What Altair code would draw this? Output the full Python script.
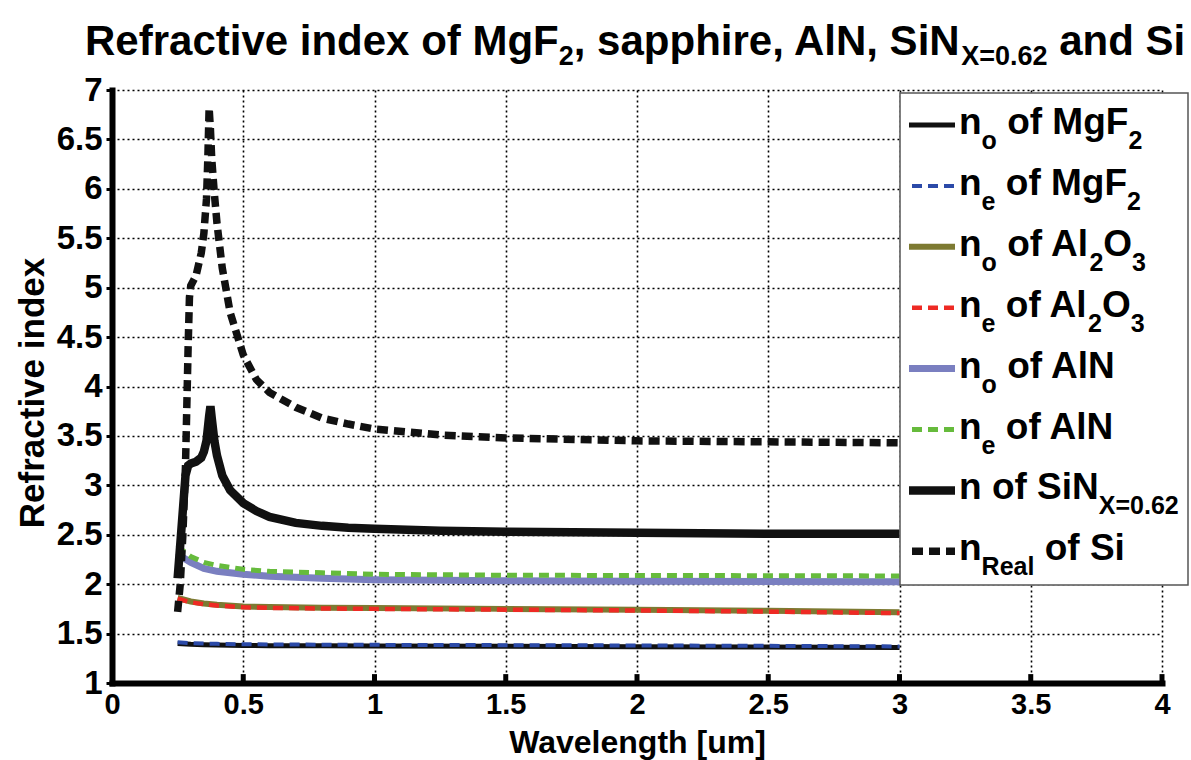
import altair as alt
import pandas as pd

# ---------------- data ----------------
wl_mgf2 = [0.25, 0.30, 0.35, 0.40, 0.50, 0.60, 0.80, 1.00, 1.50, 2.00, 2.50, 3.00]
no_mgf2 = [1.400, 1.392, 1.387, 1.384, 1.380, 1.378, 1.376, 1.374, 1.371, 1.368, 1.364, 1.358]
ne_mgf2 = [1.412, 1.404, 1.399, 1.396, 1.392, 1.390, 1.388, 1.386, 1.383, 1.380, 1.376, 1.370]

wl_al2o3 = [0.25, 0.30, 0.35, 0.40, 0.50, 0.60, 0.80, 1.00, 1.50, 2.00, 2.50, 3.00]
no_al2o3 = [1.860, 1.825, 1.805, 1.792, 1.775, 1.768, 1.762, 1.758, 1.750, 1.742, 1.730, 1.715]
ne_al2o3 = [1.852, 1.817, 1.797, 1.784, 1.767, 1.760, 1.754, 1.750, 1.742, 1.734, 1.722, 1.707]

wl_aln = [0.25, 0.27, 0.30, 0.35, 0.40, 0.50, 0.60, 0.80, 1.00, 1.50, 2.00, 2.50, 3.00]
no_aln = [2.320, 2.270, 2.220, 2.160, 2.130, 2.100, 2.080, 2.060, 2.045, 2.035, 2.030, 2.028, 2.025]
ne_aln = [2.400, 2.340, 2.280, 2.220, 2.190, 2.150, 2.130, 2.115, 2.100, 2.090, 2.088, 2.086, 2.083]

wl_sin = [0.25, 0.26, 0.27, 0.28, 0.29, 0.30, 0.32, 0.34, 0.35, 0.36, 0.37, 0.375, 0.38,
          0.39, 0.40, 0.42, 0.45, 0.50, 0.55, 0.60, 0.70, 0.80, 0.90, 1.00, 1.25, 1.50,
          2.00, 2.50, 3.00]
n_sin = [2.06, 2.40, 2.75, 3.10, 3.20, 3.22, 3.24, 3.28, 3.34, 3.45, 3.70, 3.80, 3.68,
         3.45, 3.30, 3.10, 2.95, 2.82, 2.74, 2.68, 2.62, 2.59, 2.57, 2.56, 2.54, 2.53,
         2.52, 2.51, 2.51]

wl_si = [0.25, 0.26, 0.27, 0.28, 0.285, 0.29, 0.295, 0.30, 0.32, 0.34, 0.35, 0.36, 0.365,
         0.37, 0.375, 0.38, 0.39, 0.40, 0.42, 0.45, 0.50, 0.55, 0.60, 0.70, 0.80, 0.90,
         1.00, 1.25, 1.50, 2.00, 2.50, 3.00]
n_si = [1.72, 2.00, 2.50, 3.20, 3.80, 4.40, 4.90, 5.02, 5.12, 5.35, 5.55, 5.90, 6.30,
        6.82, 6.60, 6.30, 5.95, 5.65, 5.20, 4.75, 4.32, 4.07, 3.94, 3.79, 3.68, 3.62,
        3.57, 3.51, 3.48, 3.45, 3.44, 3.43]

x_ticks = [0, 0.5, 1, 1.5, 2, 2.5, 3, 3.5, 4]
y_ticks = [1, 1.5, 2, 2.5, 3, 3.5, 4, 4.5, 5, 5.5, 6, 6.5, 7]

# legend rows: list of (text, is_subscript)
legend_rows = [
    [("n", 0), ("o", 1), (" of MgF", 0), ("2", 1)],
    [("n", 0), ("e", 1), (" of MgF", 0), ("2", 1)],
    [("n", 0), ("o", 1), (" of Al", 0), ("2", 1), ("O", 0), ("3", 1)],
    [("n", 0), ("e", 1), (" of Al", 0), ("2", 1), ("O", 0), ("3", 1)],
    [("n", 0), ("o", 1), (" of AlN", 0)],
    [("n", 0), ("e", 1), (" of AlN", 0)],
    [("n of SiN", 0), ("X=0.62", 1)],
    [("n", 0), ("Real", 1), (" of Si", 0)],
]
title_pieces = [("Refractive index of MgF", 0), ("2", 1), (", sapphire, AlN, SiN", 0),
                ("X=0.62", 1), (" and Si", 0)]

# ---------------- styles ----------------
series = [
    (wl_mgf2, no_mgf2, "#111111", 5, None),
    (wl_mgf2, ne_mgf2, "#2b4aa8", 4, [10, 6]),
    (wl_al2o3, no_al2o3, "#7d7a32", 6, None),
    (wl_al2o3, ne_al2o3, "#ee2a24", 4.5, [10, 6]),
    (wl_aln, no_aln, "#7a7fc0", 7, None),
    (wl_aln, ne_aln, "#66bb3c", 5, [10, 6]),
    (wl_sin, n_sin, "#111111", 8.5, None),
    (wl_si, n_si, "#111111", 7.5, [11, 6]),
]

W, H = 1050, 593
FONT = "Liberation Sans"

# Arial/Liberation Sans Bold advance widths (per 1000 em)
AW = {" ": 278, ",": 278, ".": 278, "=": 584, "A": 722, "F": 611, "M": 833, "N": 722,
      "O": 778, "R": 722, "S": 667, "X": 667, "a": 556, "c": 556, "d": 611, "e": 556,
      "f": 333, "g": 611, "h": 611, "i": 278, "l": 278, "n": 611, "o": 611, "p": 611,
      "r": 389, "s": 556, "t": 333, "v": 556, "x": 556}
for d in "0123456789":
    AW[d] = 556


def tw(s, size):
    return sum(AW.get(c, 556) for c in s) * size / 1000.0


def rich(pieces, x0, y0, big, small, dy):
    out = []
    x = x0
    for txt, sub in pieces:
        size = small if sub else big
        stripped = txt.lstrip(" ")
        x += tw(txt[:len(txt) - len(stripped)], size)
        out.append({"t": stripped, "px": x, "py": y0 + (dy if sub else 0), "fs": size})
        x += tw(stripped, size)
    return out


xscale = alt.Scale(domain=[0, 4], nice=False, zero=False)
yscale = alt.Scale(domain=[1, 7], nice=False, zero=False)

x_axis = alt.Axis(values=x_ticks, format="~g", grid=True, gridColor="#000000",
                  gridDash=[2, 3], gridWidth=1.6, gridOpacity=1, domainColor="#000000",
                  domainWidth=6, domainCap="square", ticks=False, labelFont=FONT,
                  labelFontWeight="bold", labelFontSize=29, labelColor="#000000",
                  labelPadding=7, title="Wavelength [um]", titleFont=FONT,
                  titleFontWeight="bold", titleFontSize=32, titleColor="#000000",
                  titleX=W / 2, titleY=69, titleBaseline="alphabetic", labelFlush=False,
                  labelOverlap=False)
y_axis = alt.Axis(values=y_ticks, format="~g", grid=True, gridColor="#000000",
                  gridDash=[2, 3], gridWidth=1.6, gridOpacity=1, domainColor="#000000",
                  domainWidth=6, domainCap="square", ticks=True, tickSize=6, tickWidth=3,
                  tickColor="#000000", labelFont=FONT, labelFontWeight="bold",
                  labelFontSize=33, labelColor="#000000", labelPadding=4,
                  title="Refractive index", titleFont=FONT, titleFontWeight="bold",
                  titleFontSize=35, titleColor="#000000", titleX=-80, titleY=H / 2 + 6,
                  titleBaseline="middle", titleAlign="center", titleAngle=270,
                  labelFlush=False, labelOverlap=False)

layers = []
for i, (xs, ys, col, sw, dash) in enumerate(series):
    df = pd.DataFrame({"wl": xs, "n": ys})
    kw = dict(color=col, strokeWidth=sw, strokeCap="butt", strokeJoin="miter", clip=True)
    if dash:
        kw["strokeDash"] = dash
    layers.append(alt.Chart(df).mark_line(**kw).encode(
        x=alt.X("wl:Q", scale=xscale, axis=x_axis),
        y=alt.Y("n:Q", scale=yscale, axis=y_axis),
    ))

# inward ticks on the x axis
tick_df = pd.DataFrame({"wl": x_ticks[1:], "n": [1.0] * 8, "n2": [1.09] * 8})
layers.append(alt.Chart(tick_df).mark_rule(color="#000000", strokeWidth=5).encode(
    x=alt.X("wl:Q", scale=xscale, axis=x_axis),
    y=alt.Y("n:Q", scale=yscale, axis=y_axis), y2="n2:Q"))

# legend box
LX0, LX1, LY0, LY1 = 788, 1076, 3, 495
one = pd.DataFrame({"a": [0]})
layers.append(alt.Chart(one).mark_rect(
    fill="#ffffff", stroke="#555555", strokeWidth=1.5).encode(
    x=alt.value(LX0), x2=alt.value(LX1), y=alt.value(LY0), y2=alt.value(LY1)))

ROW0, STEP = 35, 60.9
text_rows = []
for i, ((xs, ys, col, sw, dash), row) in enumerate(zip(series, legend_rows)):
    yy = ROW0 + STEP * i
    kw = dict(color=col, strokeWidth=sw, strokeCap="butt")
    if dash:
        kw["strokeDash"] = dash
    layers.append(alt.Chart(one).mark_rule(**kw).encode(
        x=alt.value(797 if not dash else 800), x2=alt.value(843), y=alt.value(yy)))
    text_rows += rich(row, 847, yy + 9, 37, 25, 15)

text_rows += rich(title_pieces, -27, -35, 42, 27, 10)

for r in text_rows:
    layers.append(alt.Chart(one).mark_text(
        align="left", baseline="alphabetic", font=FONT, fontWeight="bold",
        fontSize=r["fs"], color="#000000", text=r["t"]).encode(
        x=alt.value(r["px"]), y=alt.value(r["py"])))

chart = alt.layer(*layers).properties(
    width=W, height=H,
    padding={"left": 112, "top": 90, "right": 29, "bottom": 77},
    autosize=alt.AutoSizeParams(type="none"),
    background="#ffffff",
).configure_view(stroke=None)

chart.save("out.html", embed_options={"renderer": "svg", "actions": False})
